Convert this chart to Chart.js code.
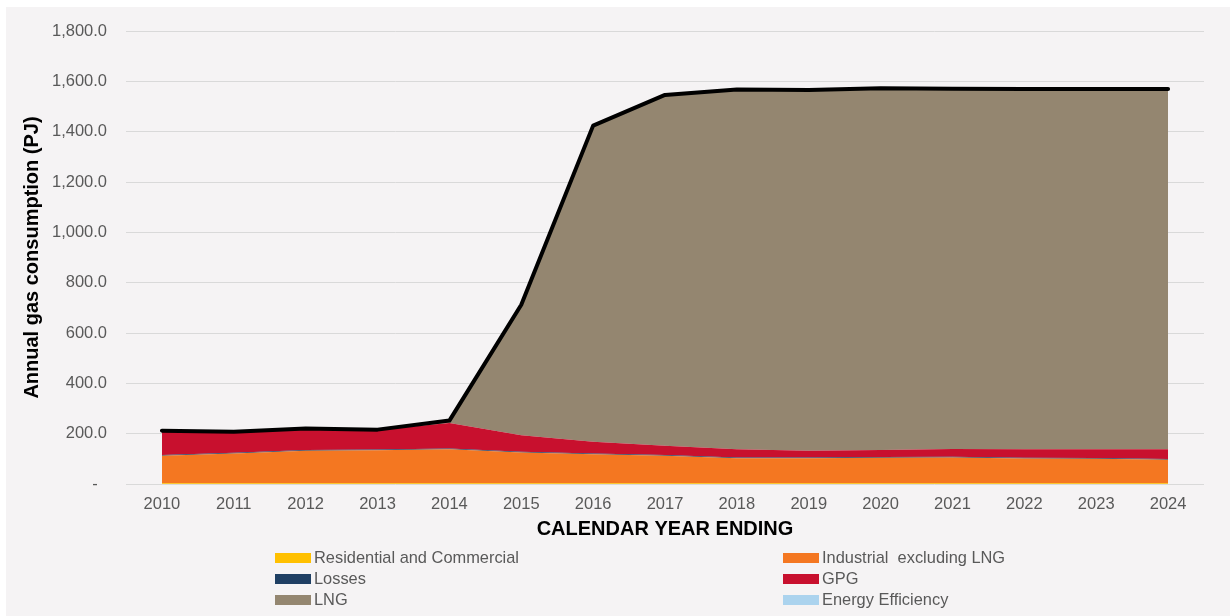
<!DOCTYPE html>
<html>
<head>
<meta charset="utf-8">
<script src="https://cdn.jsdelivr.net/npm/chart.js@4.4.1/dist/chart.umd.min.js"></script>
<style>
  html, body { margin: 0; padding: 0; background: #ffffff; }
  #wrap { width: 1230px; height: 616px; position: relative; }
</style>
</head>
<body>
<div id="wrap"><canvas id="gasChart" width="1230" height="616"></canvas></div>
<script>
// categories
const years = ["2010", "2011", "2012", "2013", "2014", "2015", "2016", "2017",
  "2018", "2019", "2020", "2021", "2022", "2023", "2024"];

// series values (PJ)
const residential = [3, 3, 3, 3, 3, 3, 3, 3, 3, 3, 3, 3, 3, 3, 3];
const industrial = [109, 118, 129, 131, 135, 122, 115, 109, 99, 99, 101, 102, 98, 97, 93];
const losses = [3, 3, 3, 3, 3, 3, 3, 3, 3, 3, 3, 3, 3, 3, 3];
const gpg = [97, 84, 86, 79, 101, 66, 47, 37, 33, 27, 28, 31, 34, 35, 39];
const lng = [0, 0, 0, 0, 10, 518, 1256, 1394, 1430, 1434, 1438, 1432, 1432, 1432, 1432];
const energyEfficiency = [0, 0, 0, 0, 0, 0, 0, 0, 0, 0, 0, 0, 0, 0, 0];

// y tick values
const yTicks = [0, 200, 400, 600, 800, 1000, 1200, 1400, 1600, 1800];

const seriesList = [
  { label: "Residential and Commercial", data: residential, color: "#ffc000" },
  { label: "Industrial  excluding LNG", data: industrial, color: "#f47721" },
  { label: "Losses", data: losses, color: "#1f3f63" },
  { label: "GPG", data: gpg, color: "#c8102e" },
  { label: "LNG", data: lng, color: "#948670" },
  { label: "Energy Efficiency", data: energyEfficiency, color: "#abd3ee" },
];

// total line = sum of the stacked series
const total = years.map((y, i) => seriesList.reduce((s, d) => s + d.data[i], 0));

const FONT = "'Liberation Sans', Arial, sans-serif";
Chart.defaults.font.family = FONT;

const datasets = seriesList.map((s, i) => ({
  label: s.label,
  data: s.data,
  backgroundColor: s.color,
  borderColor: s.color,
  borderWidth: 0,
  pointRadius: 0,
  fill: i === 0 ? "origin" : "-1",
  stack: "areas",
  tension: 0,
}));
datasets.push({
  label: "Total",
  data: total,
  borderColor: "#000000",
  borderWidth: 4,
  borderCapStyle: "round",
  borderJoinStyle: "round",
  pointRadius: 0,
  fill: false,
  stack: "total",
  order: -1,
  tension: 0,
});

const bgPlugin = {
  id: "bg",
  beforeDraw(chart) {
    const ctx = chart.ctx;
    ctx.save();
    ctx.fillStyle = "#f5f3f4";
    ctx.fillRect(6, 7, chart.width - 6, chart.height - 7);
    ctx.restore();
  },
};

// two-column legend under the axis title
const legendPlugin = {
  id: "twoColLegend",
  afterDraw(chart) {
    const ctx = chart.ctx;
    const colX = [275, 783];
    const rowY = [558, 579, 600];
    ctx.save();
    ctx.font = "16.4px " + FONT;
    ctx.textBaseline = "middle";
    ctx.textAlign = "left";
    seriesList.forEach((s, i) => {
      const x = colX[i % 2];
      const y = rowY[Math.floor(i / 2)];
      ctx.fillStyle = s.color;
      ctx.fillRect(x, y - 5, 36, 10);
      ctx.fillStyle = "#595959";
      ctx.fillText(s.label, x + 39, y);
    });
    ctx.restore();
  },
};

new Chart(document.getElementById("gasChart"), {
  type: "line",
  data: { labels: years, datasets: datasets },
  plugins: [bgPlugin, legendPlugin],
  options: {
    responsive: false,
    animation: false,
    layout: { padding: { top: 31, right: 26, bottom: 72, left: 6 } },
    plugins: {
      legend: { display: false },
      tooltip: { enabled: false },
    },
    scales: {
      x: {
        offset: true,
        grid: { display: false, drawTicks: false },
        border: { display: false },
        ticks: { color: "#595959", font: { size: 16.5 }, padding: 11, maxRotation: 0 },
        title: {
          display: true,
          text: "CALENDAR YEAR ENDING",
          color: "#000000",
          font: { size: 20, weight: "bold" },
          padding: { top: 0, bottom: 3 },
        },
        afterFit(scale) { scale.height = 60; },
      },
      y: {
        stacked: true,
        min: 0,
        max: 1800,
        afterBuildTicks(scale) { scale.ticks = yTicks.map(v => ({ value: v })); },
        grid: { color: "#d9d9d9", lineWidth: 1, drawTicks: false },
        border: { display: false },
        ticks: {
          color: "#595959",
          font: { size: 16.5 },
          padding: 19,
          callback: v => v === 0 ? "-  " :
            v.toLocaleString("en-US", { minimumFractionDigits: 1, maximumFractionDigits: 1 }),
        },
        title: {
          display: true,
          text: "Annual gas consumption (PJ)",
          color: "#000000",
          font: { size: 20, weight: "bold" },
          padding: { top: 14, bottom: 0 },
        },
        afterFit(scale) { scale.width = 120; },
      },
    },
  },
});
</script>
</body>
</html>
